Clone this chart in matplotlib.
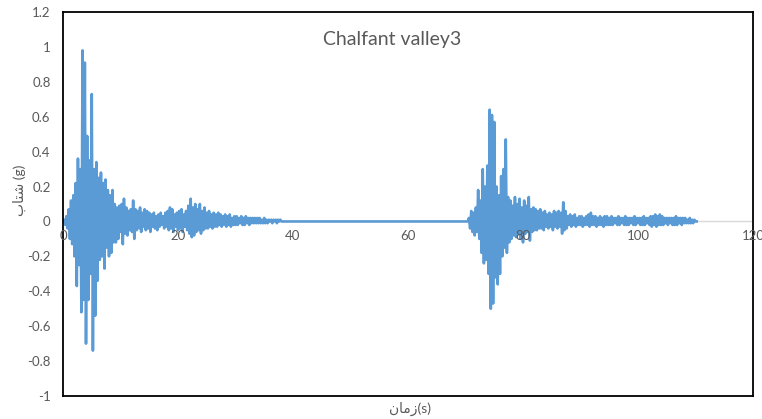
#!/usr/bin/env python3
#-*-coding: utf-8-*-
import matplotlib
matplotlib.use('Agg')
import matplotlib.pyplot as plt
import matplotlib.transforms as mtransforms
import numpy as np

# sampling step of the record (s)
dt = 0.2

# first event, starts at t=0
t1_start = 0.0
acc1 = [0, 0.01, -0.02, 0.03, -0.04, 0.07, -0.1, 0.12, -0.13, 0.15,
        -0.2, 0.22, -0.37, 0.36, -0.25, 0.3, -0.52, 0.98, -0.45, 0.91,
        -0.70, 0.49, -0.45, 0.35, -0.3, 0.73, -0.74, 0.3, -0.54, 0.34,
        -0.34, 0.25, -0.22, 0.28, -0.2, 0.22, -0.27, 0.24, -0.15, 0.18,
        -0.2, 0.15, -0.18, 0.18, -0.12, 0.1, -0.12, 0.08, -0.1, 0.09,
        -0.06, 0.1, -0.13, 0.13, -0.07, 0.08, -0.08, 0.06, -0.05, 0.07,
        -0.06, 0.12, -0.1, 0.07, -0.05, 0.06, -0.04, 0.08, -0.06, 0.05,
        -0.03, 0.07, -0.05, 0.06, -0.04, 0.05, -0.06, 0.04, -0.03, 0.05,
        -0.04, 0.03, -0.05, 0.04, -0.03, 0.05, -0.02, 0.03, -0.04, 0.05,
        -0.03, 0.06, -0.05, 0.08, -0.04, 0.07, -0.06, 0.04, -0.03, 0.05,
        -0.05, 0.06, -0.04, 0.07, -0.06, 0.04, -0.03, 0.06, -0.05, 0.09,
        -0.07, 0.13, -0.09, 0.08, -0.08, 0.1, -0.06, 0.07, -0.05, 0.1,
        -0.07, 0.06, -0.05, 0.08, -0.04, 0.05, -0.04, 0.06, -0.03, 0.04,
        -0.04, 0.05, -0.03, 0.04, -0.03, 0.05, -0.02, 0.04, -0.03, 0.03,
        -0.02, 0.04, -0.03, 0.03, -0.02, 0.04, -0.03, 0.02, -0.02, 0.03,
        -0.02, 0.03, -0.02, 0.02, -0.01, 0.03, -0.02, 0.02, -0.02, 0.03,
        -0.01, 0.02, -0.02, 0.02, -0.01, 0.02, -0.01, 0.02, -0.01, 0.02,
        -0.01, 0.02, -0.01, 0.01, -0.01, 0.02, -0.01, 0.01, -0.01, 0.01,
        0, 0.01, -0.01, 0.01, 0, 0.01, -0.01, 0.01, 0, 0.01,
        0, 0, 0, 0]

# second event, after the quiet gap
t2_start = 70.4
acc2 = [0, 0.02, -0.04, 0.06, -0.06, 0.05, -0.08, 0.08, -0.06, 0.18,
        -0.1, 0.12, -0.18, 0.3, -0.24, 0.2, -0.22, 0.32, -0.3, 0.64,
        -0.5, 0.61, -0.47, 0.57, -0.32, 0.2, -0.36, 0.15, -0.3, 0.26,
        -0.2, 0.3, -0.15, 0.47, -0.18, 0.14, -0.12, 0.12, -0.1, 0.09,
        -0.08, 0.14, -0.09, 0.1, -0.07, 0.13, -0.1, 0.08, -0.12, 0.12,
        -0.07, 0.09, -0.06, 0.14, -0.11, 0.07, -0.06, 0.08, -0.05, 0.07,
        -0.05, 0.06, -0.04, 0.07, -0.04, 0.05, -0.05, 0.06, -0.03, 0.04,
        -0.04, 0.05, -0.03, 0.04, -0.05, 0.06, -0.03, 0.05, -0.04, 0.06,
        -0.03, 0.05, -0.07, 0.11, -0.05, 0.06, -0.04, 0.03, -0.02, 0.04,
        -0.03, 0.03, -0.02, 0.04, -0.03, 0.02, -0.02, 0.03, -0.02, 0.03,
        -0.03, 0.02, -0.02, 0.03, -0.02, 0.04, -0.03, 0.05, -0.02, 0.03,
        -0.02, 0.03, -0.03, 0.02, -0.02, 0.03, -0.02, 0.02, -0.03, 0.03,
        -0.02, 0.03, -0.02, 0.02, -0.02, 0.03, -0.02, 0.02, -0.01, 0.02,
        -0.02, 0.03, -0.02, 0.02, -0.01, 0.02, -0.02, 0.03, -0.02, 0.02,
        -0.02, 0.02, -0.01, 0.02, -0.02, 0.03, -0.02, 0.02, -0.01, 0.02,
        -0.02, 0.02, -0.02, 0.03, -0.02, 0.02, -0.01, 0.02, -0.02, 0.03,
        -0.03, 0.03, -0.02, 0.04, -0.03, 0.03, -0.02, 0.04, -0.02, 0.03,
        -0.02, 0.02, -0.01, 0.02, -0.02, 0.02, -0.01, 0.02, -0.02, 0.02,
        -0.02, 0.03, -0.02, 0.02, -0.01, 0.02, -0.02, 0.02, -0.01, 0.02,
        -0.01, 0.01, -0.01, 0.02, -0.01, 0.01, -0.01, 0.01, 0, 0]

xticks = [0, 20, 40, 60, 80, 100, 120]
yticks = [-1, -0.8, -0.6, -0.4, -0.2, 0, 0.2, 0.4, 0.6, 0.8, 1, 1.2]

title = 'Chalfant valley3'
# arabic labels written in visual order with presentation forms
xlabel = '\ufee5\ufe8e\ufee3\ufeaf(s)'      # زمان(s)
ylabel = '\ufe8f\ufe8e\ufe98\ufeb7 (g)'     # شتاب (g)

txt_col = '#595959'
line_col = '#5B9BD5'

plt.rcParams['font.family'] = ['Lato', 'DejaVu Sans']

t1 = t1_start + dt * np.arange(len(acc1))
t2 = t2_start + dt * np.arange(len(acc2))
t = np.concatenate([t1, t2])
acc = np.array(acc1 + acc2)

fig = plt.figure(figsize=(7.62, 4.19), dpi=100)
ax = fig.add_axes([63/762, 1-396/419, 690/762, 384/419])

# zero line of the category axis
ax.axhline(0, color='#d9d9d9', lw=1.0, zorder=1)
ax.plot(t, acc, color=line_col, lw=1.9, zorder=2)

ax.set_xlim(0, 120)
ax.set_ylim(-1, 1.2)
ax.set_yticks(yticks)
ax.set_yticklabels(['%g' % v for v in yticks], color=txt_col, fontsize=9.5)
ax.tick_params(axis='y', length=0, pad=9)
ax.set_xticks([])
for s in ax.spines.values():
    s.set_color('black')
    s.set_linewidth(1.3)

# x tick labels sit under the zero line
off = mtransforms.offset_copy(ax.transData, fig=fig, x=0, y=-6, units='points')
for xv in xticks:
    ax.text(xv, 0, str(xv), transform=off, ha='center', va='top',
            color=txt_col, fontsize=9.5, clip_on=False)

fig.text(392/762, 1-40/419, title, ha='center', va='center',
         color=txt_col, fontsize=14)
fig.text(410/762, 1-409/419, xlabel, ha='center', va='center',
         color=txt_col, fontsize=10)
fig.text(19/762, 1-190/419, ylabel, ha='center', va='center',
         rotation=90, color=txt_col, fontsize=10)

plt.savefig('out.png', dpi=100)
